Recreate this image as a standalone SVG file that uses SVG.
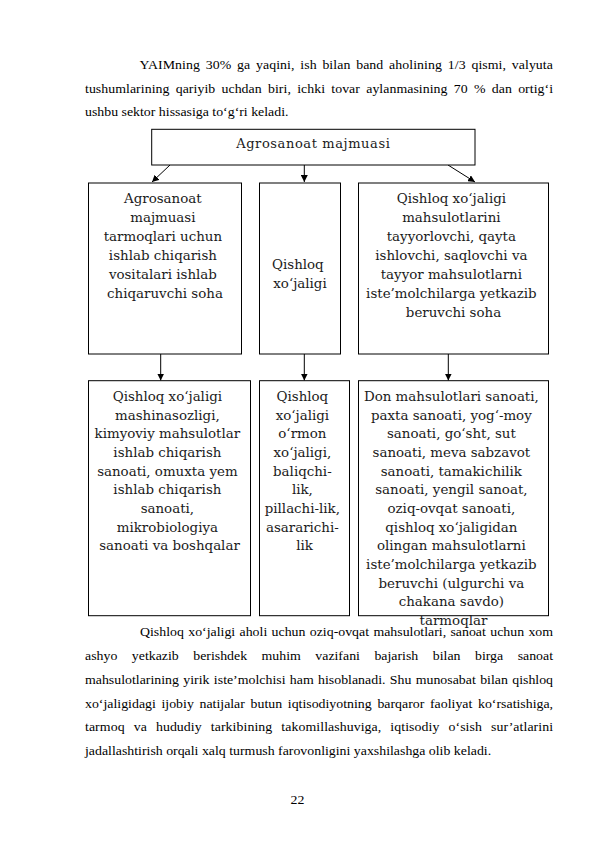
<svg xmlns="http://www.w3.org/2000/svg" width="595" height="842" viewBox="0 0 595 842">
<style>
.bg{fill:#fff}
.box{fill:#fff;stroke:#000;stroke-width:1}
.bt{font-family:"DejaVu Serif","Liberation Serif",serif;font-size:13.4px;fill:#1a1a1a;text-anchor:middle}
.tt{font-family:"DejaVu Serif","Liberation Serif",serif;font-size:13px;letter-spacing:0.6px;fill:#1a1a1a;text-anchor:middle}
.p{font-family:"Liberation Serif","Times New Roman",serif;font-size:12.6px;fill:#000}
.c{stroke:#000;stroke-width:1;fill:none;marker-end:url(#ah)}
</style>
<defs>
<marker id="ah" viewBox="0 0 10 10" refX="10" refY="5" markerWidth="7" markerHeight="7" markerUnits="userSpaceOnUse" orient="auto">
<path d="M0,0 L10,5 L0,10 z" fill="#000"/>
</marker>
</defs>
<rect class="bg" x="0" y="0" width="595" height="842"/>

<g id="para1" class="p" transform="translate(85,0) scale(1.1,1)">
<text x="49.5" y="69" textLength="375.9" lengthAdjust="spacing" word-spacing="2">YAIMning 30% ga yaqini, ish bilan band aholining 1/3 qismi, valyuta</text>
<text x="0" y="92.7" textLength="425.5" lengthAdjust="spacing" word-spacing="2.5">tushumlarining qariyib uchdan biri, ichki tovar aylanmasining 70 % dan ortig‘i</text>
<text x="0" y="116.4">ushbu sektor hissasiga to‘g‘ri keladi.</text>
</g>

<g id="connectors">
<line class="c" x1="170" y1="165" x2="152" y2="182"/>
<line class="c" x1="304.3" y1="165" x2="304.3" y2="182"/>
<line class="c" x1="448" y1="165" x2="475" y2="182"/>
<line class="c" x1="160.7" y1="354" x2="160.7" y2="380.5"/>
<line class="c" x1="304.3" y1="354" x2="304.3" y2="380.5"/>
<line class="c" x1="448.3" y1="354" x2="448.3" y2="380.5"/>
</g>

<g id="n-top">
<rect class="box" x="151.7" y="129.3" width="323.3" height="35.7"/>
<text class="tt" x="313.3" y="148">Agrosanoat majmuasi</text>
</g>

<g id="n-mid-left">
<rect class="box" x="88.5" y="183" width="153" height="171"/>
<text class="bt" x="165" y="202.5">
<tspan x="165">Agrosanoat</tspan>
<tspan x="165" dy="19">majmuasi</tspan>
<tspan x="165" dy="19">tarmoqlari uchun</tspan>
<tspan x="165" dy="19">ishlab chiqarish</tspan>
<tspan x="165" dy="19">vositalari ishlab</tspan>
<tspan x="165" dy="19">chiqaruvchi soha</tspan>
</text>
</g>

<g id="n-mid-center">
<rect class="box" x="259.5" y="183" width="81" height="171"/>
<text class="bt" x="300" y="269">
<tspan x="300">Qishloq</tspan>
<tspan x="300" dy="19">xo‘jaligi</tspan>
</text>
</g>

<g id="n-mid-right">
<rect class="box" x="358.5" y="183" width="190" height="171"/>
<text class="bt" x="453.5" y="202.5">
<tspan x="453.5">Qishloq xo‘jaligi</tspan>
<tspan x="453.5" dy="19">mahsulotlarini</tspan>
<tspan x="453.5" dy="19">tayyorlovchi, qayta</tspan>
<tspan x="453.5" dy="19">ishlovchi, saqlovchi va</tspan>
<tspan x="453.5" dy="19">tayyor mahsulotlarni</tspan>
<tspan x="453.5" dy="19">iste’molchilarga yetkazib</tspan>
<tspan x="453.5" dy="19">beruvchi soha</tspan>
</text>
</g>

<g id="n-bot-left">
<rect class="box" x="88.5" y="380.7" width="162" height="235"/>
<text class="bt" x="169.5" y="401">
<tspan x="169.5">Qishloq xo‘jaligi</tspan>
<tspan x="169.5" dy="18.67">mashinasozligi,</tspan>
<tspan x="169.5" dy="18.67">kimyoviy mahsulotlar</tspan>
<tspan x="169.5" dy="18.67">ishlab chiqarish</tspan>
<tspan x="169.5" dy="18.67">sanoati, omuxta yem</tspan>
<tspan x="169.5" dy="18.67">ishlab chiqarish</tspan>
<tspan x="169.5" dy="18.67">sanoati,</tspan>
<tspan x="169.5" dy="18.67">mikrobiologiya</tspan>
<tspan x="169.5" dy="18.67">sanoati va boshqalar</tspan>
</text>
</g>

<g id="n-bot-center">
<rect class="box" x="259.5" y="380.7" width="90" height="235"/>
<text class="bt" x="304.5" y="401">
<tspan x="304.5">Qishloq</tspan>
<tspan x="304.5" dy="18.67">xo‘jaligi</tspan>
<tspan x="304.5" dy="18.67">o‘rmon</tspan>
<tspan x="304.5" dy="18.67">xo‘jaligi,</tspan>
<tspan x="304.5" dy="18.67">baliqchi-</tspan>
<tspan x="304.5" dy="18.67">lik,</tspan>
<tspan x="304.5" dy="18.67">pillachi-lik,</tspan>
<tspan x="304.5" dy="18.67">asararichi-</tspan>
<tspan x="304.5" dy="18.67">lik</tspan>
</text>
</g>

<g id="n-bot-right">
<rect class="box" x="358.5" y="380.7" width="190" height="235"/>
<text class="bt" x="453.5" y="401">
<tspan x="453.5">Don mahsulotlari sanoati,</tspan>
<tspan x="453.5" dy="18.67">paxta sanoati, yog‘-moy</tspan>
<tspan x="453.5" dy="18.67">sanoati, go‘sht, sut</tspan>
<tspan x="453.5" dy="18.67">sanoati, meva sabzavot</tspan>
<tspan x="453.5" dy="18.67">sanoati, tamakichilik</tspan>
<tspan x="453.5" dy="18.67">sanoati, yengil sanoat,</tspan>
<tspan x="453.5" dy="18.67">oziq-ovqat sanoati,</tspan>
<tspan x="453.5" dy="18.67">qishloq xo‘jaligidan</tspan>
<tspan x="453.5" dy="18.67">olingan mahsulotlarni</tspan>
<tspan x="453.5" dy="18.67">iste’molchilarga yetkazib</tspan>
<tspan x="453.5" dy="18.67">beruvchi (ulgurchi va</tspan>
<tspan x="453.5" dy="18.67">chakana savdo)</tspan>
<tspan x="453.5" dy="18.67">tarmoqlar</tspan>
</text>
</g>

<g id="para2" class="p" transform="translate(85,0) scale(1.1,1)">
<text x="50" y="636.5" textLength="375.5" lengthAdjust="spacing" word-spacing="0.8">Qishloq xo‘jaligi aholi uchun oziq-ovqat mahsulotlari, sanoat uchun xom</text>
<text x="0" y="660.2" textLength="425.5" lengthAdjust="spacing" word-spacing="10">ashyo yetkazib berishdek muhim vazifani bajarish bilan birga sanoat</text>
<text x="0" y="683.9" textLength="425.5" lengthAdjust="spacing" word-spacing="0.8">mahsulotlarining yirik iste’molchisi ham hisoblanadi. Shu munosabat bilan qishloq</text>
<text x="0" y="707.6" textLength="425.5" lengthAdjust="spacing" word-spacing="2">xo‘jaligidagi ijobiy natijalar butun iqtisodiyotning barqaror faoliyat ko‘rsatishiga,</text>
<text x="0" y="731.3" textLength="425.5" lengthAdjust="spacing" word-spacing="5">tarmoq va hududiy tarkibining takomillashuviga, iqtisodiy o‘sish sur’atlarini</text>
<text x="0" y="755">jadallashtirish orqali xalq turmush farovonligini yaxshilashga olib keladi.</text>
<text x="193.2" y="804" text-anchor="middle">22</text>
</g>
</svg>
